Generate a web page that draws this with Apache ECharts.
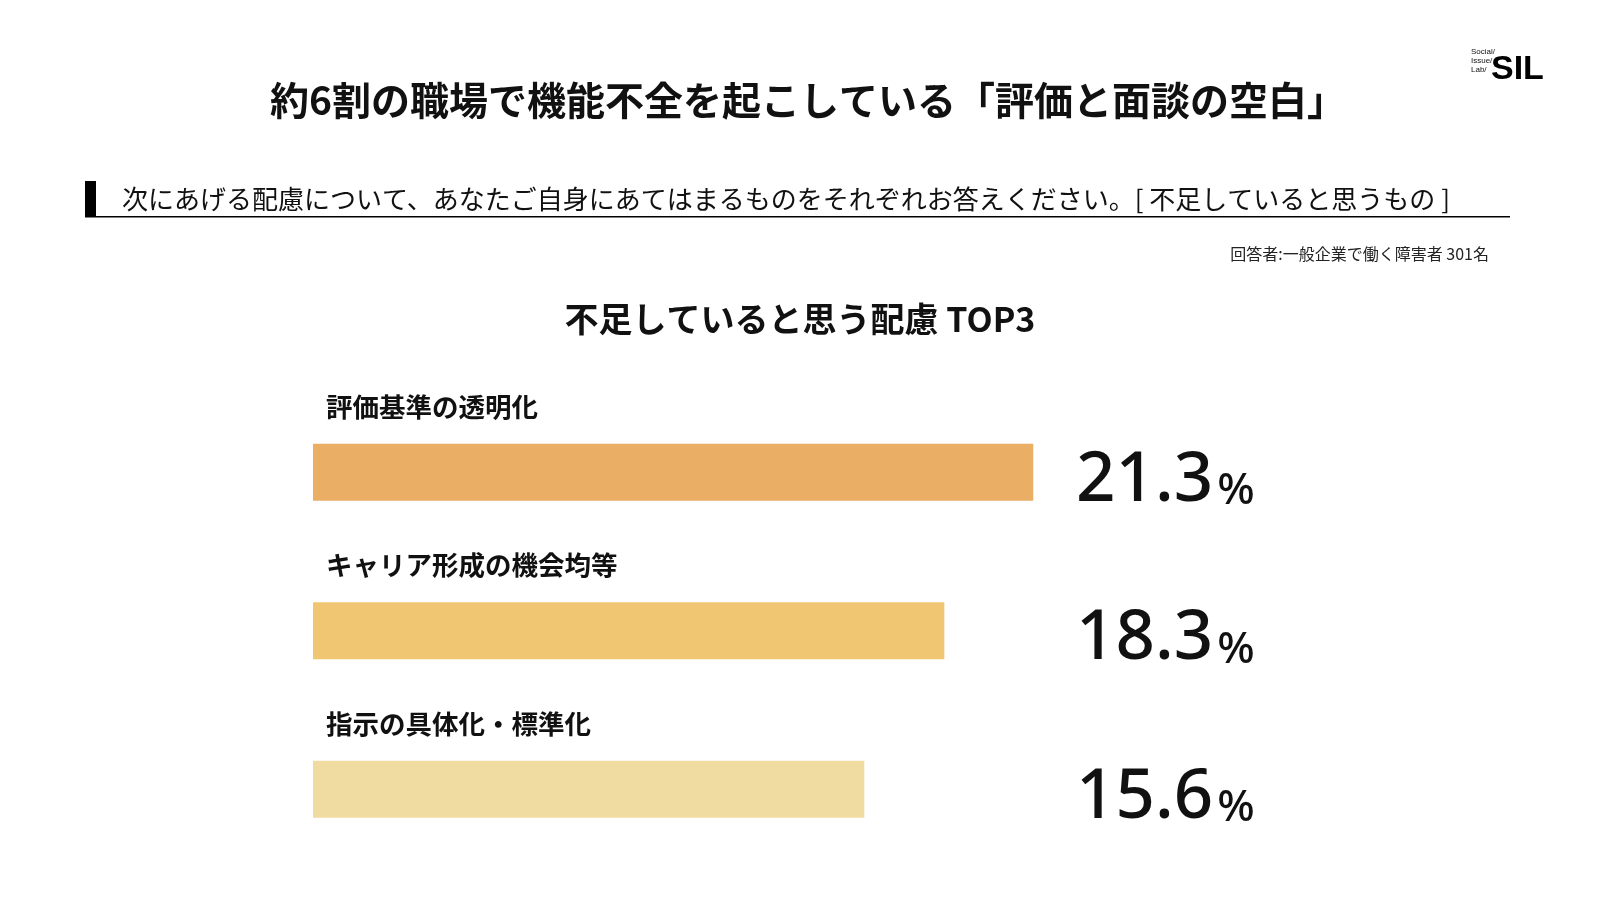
<!DOCTYPE html>
<html><head><meta charset="utf-8">
<script src="https://cdn.jsdelivr.net/npm/echarts@6/dist/echarts.min.js"></script>
<style>html,body{margin:0;padding:0;background:#fff}#c{width:1600px;height:900px}</style>
</head><body><div id="c"></div>
<script>
const categories = ['評価基準の透明化', 'キャリア形成の機会均等', '指示の具体化・標準化'];
const values = [21.3, 18.3, 15.6];
const valueLabels = ['21.3', '18.3', '15.6'];
const barColors = ['#EAAF64', '#F0C672', '#F0DBA0'];
const JP = '"Noto Sans CJK JP", "Noto Sans", sans-serif';
const NUM = '"Noto Sans", "Noto Sans CJK JP", sans-serif';

const chart = echarts.init(document.getElementById('c'));
chart.setOption({
  backgroundColor: '#ffffff',
  animation: false,
  title: [
    { text: '不足していると思う配慮 TOP3', left: 'center', top: 297,
      textStyle: { fontFamily: JP, fontSize: 34, fontWeight: 'bold', color: '#111' } }
  ],
  grid: { left: 313, width: 741, top: 393, height: 475.5 },
  xAxis: { type: 'value', min: -3, max: 22, startValue: -3, show: false },
  yAxis: [
    { type: 'category', data: categories, inverse: true, show: false },
    { type: 'category', data: categories, inverse: true, position: 'right',
      axisLine: { show: false }, axisTick: { show: false }, splitLine: { show: false },
      axisLabel: {
        margin: 22, align: 'left', padding: [18, 0, 0, 0],
        formatter: (v, i) => '{a|' + valueLabels[i] + '}{b|%}',
        rich: {
          a: { fontFamily: NUM, fontSize: 69, fontWeight: 500, color: '#111', lineHeight: 69, verticalAlign: 'bottom' },
          b: { fontFamily: NUM, fontSize: 44, fontWeight: 500, color: '#111', lineHeight: 44, verticalAlign: 'bottom', padding: [0, 0, 2, 4] }
        }
      } }
  ],
  series: [{
    type: 'bar', yAxisIndex: 0, barWidth: 57,
    data: values.map((v, i) => ({ value: v, itemStyle: { color: barColors[i] } })),
    label: { show: true, position: [13, -37], align: 'left', verticalAlign: 'middle',
      formatter: '{b}', fontFamily: JP, fontSize: 26.5, fontWeight: 'bold', color: '#111' }
  }],
  graphic: [
    { type: 'text', x: 808, y: 100, style: { text: '約6割の職場で機能不全を起こしている「評価と面談の空白」',
      font: 'bold 39px ' + JP, fill: '#111', verticalAlign: 'middle', align: 'center' } },
    { type: 'rect', shape: { x: 85, y: 181, width: 11, height: 36 }, style: { fill: '#000' } },
    { type: 'rect', shape: { x: 85, y: 216, width: 1425, height: 1.5 }, style: { fill: '#000' } },
    { type: 'text', x: 122, y: 199, style: { text: '次にあげる配慮について、あなたご自身にあてはまるものをそれぞれお答えください。[ 不足していると思うもの ]',
      font: '26px ' + JP, fill: '#111', verticalAlign: 'middle', align: 'left' } },
    { type: 'text', x: 1489, y: 254, style: { text: '回答者:一般企業で働く障害者 301名',
      font: '16px ' + JP, fill: '#222', verticalAlign: 'middle', align: 'right' } },
    { type: 'text', x: 1471, y: 47, style: { text: 'Social/\nIssue/\nLab/', font: '8px "Liberation Sans", sans-serif', lineHeight: 9, fill: '#111' } },
    { type: 'text', x: 1491, y: 70, style: { text: 'SIL', font: 'bold 34px "Liberation Sans", Arial, sans-serif', fill: '#000', verticalAlign: 'middle' } }
  ]
});
</script></body></html>
